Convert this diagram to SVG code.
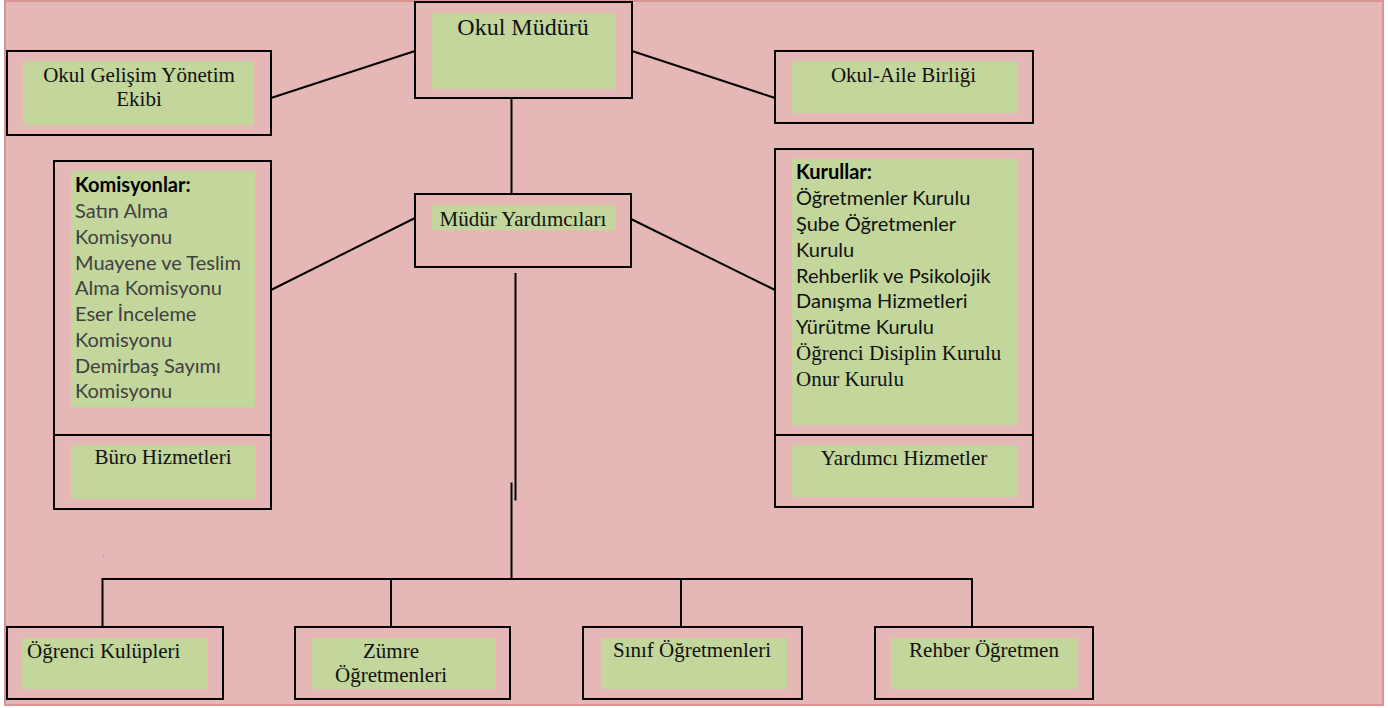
<svg xmlns="http://www.w3.org/2000/svg" width="1388" height="708" viewBox="0 0 1388 708">
<style>
.box{fill:none;stroke:#000;stroke-width:2}
.g{fill:#C3D69B}
.t{font-family:"Liberation Serif","Times New Roman",serif;font-size:21px;fill:#111}
.m{text-anchor:middle}
.c{font-family:Lato,"Liberation Sans",sans-serif;font-size:20px}
.gray{fill:#404040}
.blk{fill:#111}
.b{font-weight:bold;fill:#000}
.conn line{stroke:#000;stroke-width:2}
</style>
<rect x="5" y="1" width="1378" height="704" fill="#E5B8B7" stroke="#D99594" stroke-width="2"/>
<g class="conn" id="connectors">
<line x1="271" y1="98" x2="415" y2="51"/>
<line x1="632" y1="51" x2="775" y2="98"/>
<line x1="511.5" y1="98" x2="511.5" y2="194"/>
<line x1="415" y1="218" x2="271" y2="290"/>
<line x1="631" y1="219" x2="775" y2="290"/>
<line x1="515.5" y1="273" x2="515.5" y2="500.5"/>
<line x1="511.5" y1="482.5" x2="511.5" y2="579"/>
<line x1="101.5" y1="579" x2="973" y2="579"/>
<line x1="102.5" y1="579" x2="102.5" y2="627"/>
<line x1="391" y1="579" x2="391" y2="627"/>
<line x1="681" y1="579" x2="681" y2="627"/>
<line x1="972" y1="579" x2="972" y2="627"/>
</g>
<g id="okul-muduru">
<rect class="box" x="415" y="2" width="217" height="96"/>
<rect class="g" x="432" y="13" width="184" height="76"/>
<text class="t m" x="523" y="35" style="font-size:24px">Okul Müdürü</text>
</g>
<g id="okul-gelisim">
<rect class="box" x="7" y="51" width="264" height="84"/>
<rect class="g" x="23" y="61" width="231" height="64"/>
<text class="t m" x="139" y="82">Okul Gelişim Yönetim</text>
<text class="t m" x="139" y="106">Ekibi</text>
</g>
<g id="okul-aile">
<rect class="box" x="775" y="51" width="258" height="72"/>
<rect class="g" x="792" y="61" width="225" height="52"/>
<text class="t m" x="903.5" y="82">Okul-Aile Birliği</text>
</g>
<g id="mudur-yardimcilari">
<rect class="box" x="415" y="194" width="216" height="73"/>
<rect class="g" x="432" y="205" width="184" height="25"/>
<text class="t m" x="523" y="226">Müdür Yardımcıları</text>
</g>
<g id="komisyonlar">
<rect class="box" x="54" y="161" width="217" height="348"/>
<line x1="54" y1="435" x2="271" y2="435" stroke="#000" stroke-width="2"/>
<rect class="g" x="71" y="171" width="184" height="236"/>
<rect class="g" x="71" y="445" width="185" height="54"/>
<text class="c b" x="75" y="192">Komisyonlar:</text>
<text class="c gray" x="75" y="218">Satın Alma</text>
<text class="c gray" x="75" y="244">Komisyonu</text>
<text class="c gray" x="75" y="270">Muayene ve Teslim</text>
<text class="c gray" x="75" y="295">Alma Komisyonu</text>
<text class="c gray" x="75" y="321">Eser İnceleme</text>
<text class="c gray" x="75" y="347">Komisyonu</text>
<text class="c gray" x="75" y="373">Demirbaş Sayımı</text>
<text class="c gray" x="75" y="398">Komisyonu</text>
<text class="t m" x="163" y="464">Büro Hizmetleri</text>
</g>
<g id="kurullar">
<rect class="box" x="775" y="149" width="258" height="358"/>
<line x1="775" y1="435" x2="1033" y2="435" stroke="#000" stroke-width="2"/>
<rect class="g" x="792" y="159" width="225" height="266"/>
<rect class="g" x="792" y="445" width="225" height="52"/>
<text class="c b" x="796" y="179">Kurullar:</text>
<text class="c blk" x="796" y="205">Öğretmenler Kurulu</text>
<text class="c blk" x="796" y="231">Şube Öğretmenler</text>
<text class="c blk" x="796" y="257">Kurulu</text>
<text class="c blk" x="796" y="283">Rehberlik ve Psikolojik</text>
<text class="c blk" x="796" y="308">Danışma Hizmetleri</text>
<text class="c blk" x="796" y="334">Yürütme Kurulu</text>
<text class="t" x="796" y="360">Öğrenci Disiplin Kurulu</text>
<text class="t" x="796" y="386">Onur Kurulu</text>
<text class="t m" x="904" y="465">Yardımcı Hizmetler</text>
</g>
<g id="ogrenci-kulupleri">
<rect class="box" x="7" y="627" width="216" height="72"/>
<rect class="g" x="22" y="638" width="186" height="51"/>
<text class="t" x="27" y="658">Öğrenci Kulüpleri</text>
</g>
<g id="zumre">
<rect class="box" x="295" y="627" width="215" height="72"/>
<rect class="g" x="312" y="638" width="184" height="51"/>
<text class="t m" x="391" y="658">Zümre</text>
<text class="t m" x="391" y="682">Öğretmenleri</text>
</g>
<g id="sinif">
<rect class="box" x="583" y="627" width="219" height="72"/>
<rect class="g" x="601" y="638" width="186" height="51"/>
<text class="t m" x="692" y="657">Sınıf Öğretmenleri</text>
</g>
<g id="rehber">
<rect class="box" x="875" y="627" width="218" height="72"/>
<rect class="g" x="891" y="638" width="187" height="51"/>
<text class="t m" x="984" y="657">Rehber Öğretmen</text>
</g>
<text x="103" y="556" style="font-family:'Liberation Serif',serif;font-size:6px" fill="#000">.</text>
</svg>
